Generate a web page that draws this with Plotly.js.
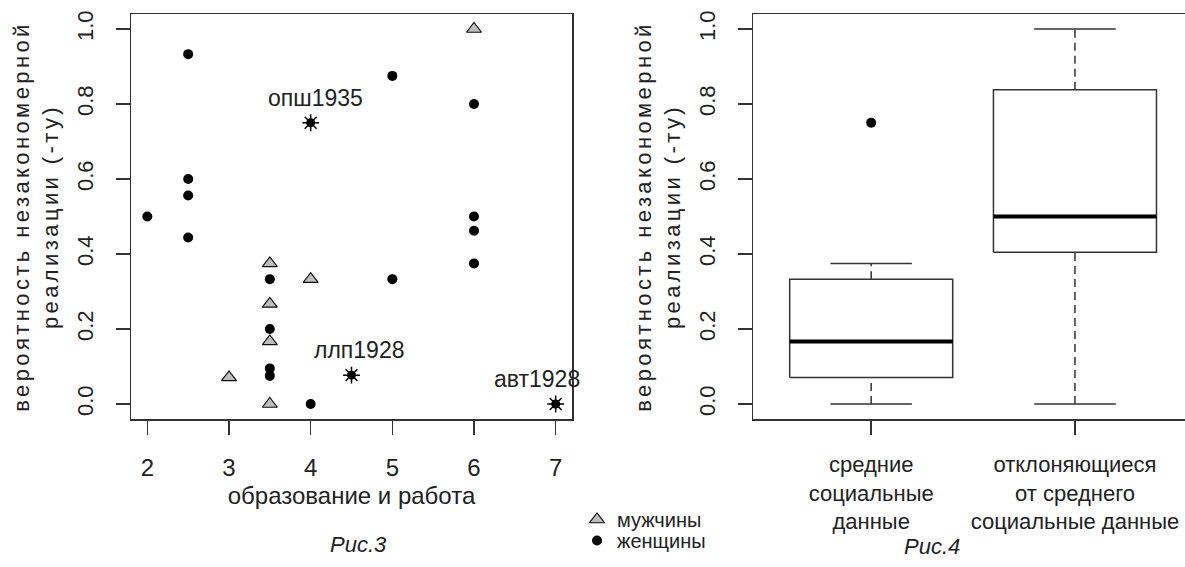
<!DOCTYPE html>
<html>
<head>
<meta charset="utf-8">
<script src="https://cdn.plot.ly/plotly-3.0.1.min.js"></script>
<style>
html,body{margin:0;padding:0;background:#fff;}
#chart{width:1185px;height:567px;}
.ytitle,.y2title{letter-spacing:3.4px;}
</style>
</head>
<body>
<div id="chart"></div>
<script>
// ---- Fig.3: scatter data ----
var menX = [6, 3.5, 4, 3.5, 3.5, 3, 3.5];
var menY = [1.0, 0.375, 0.333, 0.267, 0.167, 0.071, 0.0];
var womenX = [2.5, 5, 6, 2.5, 2.5, 2, 6, 6, 2.5, 6, 3.5, 5, 3.5, 3.5, 3.5, 4];
var womenY = [0.933, 0.875, 0.8, 0.6, 0.556, 0.5, 0.5, 0.462, 0.444, 0.375, 0.333, 0.333, 0.2, 0.095, 0.075, 0.0];
var starX = [4, 4.5, 7];
var starY = [0.75, 0.077, 0.0];
var starLabels = ["опш1935", "ллп1928", "авт1928"];
var starLabelShift = [5, 7, -19];
var xTicks3 = [2, 3, 4, 5, 6, 7];
var yTicks = [0, 0.2, 0.4, 0.6, 0.8, 1.0];
var yTickText = ["0.0", "0.2", "0.4", "0.6", "0.8", "1.0"];

// ---- Fig.4: box plot statistics ----
var groups = ["средние<br>социальные<br>данные", "отклоняющиеся<br>от среднего<br>социальные данные"];
var boxLower = [0.0, 0.0];
var boxQ1 = [0.071, 0.405];
var boxMedian = [0.167, 0.5];
var boxQ3 = [0.333, 0.838];
var boxUpper = [0.375, 1.0];
var outlierGroup = [1];
var outlierY = [0.75];

var FONT = "Liberation Sans, Arial, sans-serif";
var TXT = "#222";
var LINE = "#333";
var FS = 24;

var traces = [];
traces.push({
  x: menX, y: menY, type: "scatter", mode: "markers", name: "мужчины", legend: "legend",
  marker: {symbol: "triangle-up", size: 13, color: "#bdbdbd", line: {color: "#111", width: 1.2}},
  xaxis: "x", yaxis: "y", hoverinfo: "x+y"
});
traces.push({
  x: womenX, y: womenY, type: "scatter", mode: "markers", name: "женщины", legend: "legend2",
  marker: {symbol: "circle", size: 10, color: "#000"},
  xaxis: "x", yaxis: "y", hoverinfo: "x+y"
});
traces.push({
  x: starX, y: starY, type: "scatter", mode: "markers", showlegend: false,
  marker: {symbol: "circle", size: 9, color: "#000"},
  xaxis: "x", yaxis: "y", text: starLabels, hoverinfo: "text"
});
traces.push({
  x: starX, y: starY, type: "scatter", mode: "markers", showlegend: false,
  marker: {symbol: "asterisk-open", size: 14, color: "#000", line: {color: "#000", width: 1.5}},
  xaxis: "x", yaxis: "y", hoverinfo: "skip"
});

// box plot drawn from statistics
var HW = 0.4, CW = 0.2;
var bx = [], by = [], mx = [], my = [], wx = [], wy = [], cx = [], cy = [];
for (var i = 0; i < groups.length; i++) {
  var p = i + 1;
  bx.push(p - HW, p + HW, p + HW, p - HW, p - HW, null);
  by.push(boxQ1[i], boxQ1[i], boxQ3[i], boxQ3[i], boxQ1[i], null);
  mx.push(p - HW, p + HW, null);
  my.push(boxMedian[i], boxMedian[i], null);
  wx.push(p, p, null, p, p, null);
  wy.push(boxQ3[i], boxUpper[i], null, boxLower[i], boxQ1[i], null);
  cx.push(p - CW, p + CW, null, p - CW, p + CW, null);
  cy.push(boxUpper[i], boxUpper[i], null, boxLower[i], boxLower[i], null);
}
traces.push({x: wx, y: wy, type: "scatter", mode: "lines", showlegend: false, xaxis: "x2", yaxis: "y2",
  line: {color: LINE, width: 1.5, dash: "8px,5px"}, hoverinfo: "skip"});
traces.push({x: cx, y: cy, type: "scatter", mode: "lines", showlegend: false, xaxis: "x2", yaxis: "y2",
  line: {color: LINE, width: 1.5}, hoverinfo: "skip"});
traces.push({x: bx, y: by, type: "scatter", mode: "lines", showlegend: false, xaxis: "x2", yaxis: "y2",
  line: {color: LINE, width: 1.5}, hoverinfo: "skip"});
traces.push({x: mx, y: my, type: "scatter", mode: "lines", showlegend: false, xaxis: "x2", yaxis: "y2",
  line: {color: "#000", width: 4}, hoverinfo: "skip"});
traces.push({x: outlierGroup, y: outlierY, type: "scatter", mode: "markers", showlegend: false, xaxis: "x2", yaxis: "y2",
  marker: {symbol: "circle", size: 10, color: "#000"}, hoverinfo: "y"});

var annotations = [];
for (var k = 0; k < starLabels.length; k++) {
  annotations.push({x: starX[k], y: starY[k], xref: "x", yref: "y", text: starLabels[k], showarrow: false,
    yshift: 25, xshift: starLabelShift[k], font: {family: FONT, size: 23, color: TXT}});
}
annotations.push({x: 358 / 1185, y: -0.311, xref: "paper", yref: "paper", xanchor: "center", yanchor: "middle",
  text: "<i>Рис.3</i>", showarrow: false, font: {family: FONT, size: 22, color: TXT}});
annotations.push({x: 932 / 1185, y: -0.316, xref: "paper", yref: "paper", xanchor: "center", yanchor: "middle",
  text: "<i>Рис.4</i>", showarrow: false, font: {family: FONT, size: 22, color: TXT}});

var yTitle = "вероятность незакономерной<br>реализации (-ту)";
function yAxis(anchor, mirror) {
  return {
    anchor: anchor, range: [-0.04, 1.04], tickvals: yTicks, ticktext: yTickText, tickangle: -90,
    ticks: "outside", ticklen: 14, tickwidth: 1.5, tickcolor: LINE,
    showline: true, linecolor: LINE, linewidth: 1.5, mirror: mirror, showgrid: false, zeroline: false,
    tickfont: {family: FONT, size: 22, color: TXT}, ticklabelstandoff: 14,
    title: {text: yTitle, font: {family: FONT, size: 22, color: TXT}, standoff: 8}
  };
}
function legendAt(top) {
  return {x: 577 / 1185, y: top, xanchor: "left", yanchor: "top", font: {family: FONT, size: 20, color: TXT},
    itemsizing: "trace", bgcolor: "rgba(0,0,0,0)"};
}

var layout = {
  width: 1185, height: 567,
  margin: {l: 0, r: 0, t: 14, b: 148},
  paper_bgcolor: "#fff", plot_bgcolor: "#fff",
  showlegend: true,
  legend: legendAt(-0.20),
  legend2: legendAt(-0.252),
  xaxis: {
    domain: [131 / 1185, 572 / 1185], anchor: "y", range: [1.8, 7.2], tickvals: xTicks3,
    ticks: "outside", ticklen: 14, tickwidth: 1.5, tickcolor: LINE,
    showline: true, linecolor: LINE, linewidth: 1.5, mirror: true, showgrid: false, zeroline: false,
    tickfont: {family: FONT, size: FS, color: TXT}, ticklabelstandoff: 13,
    title: {text: "образование и работа", font: {family: FONT, size: FS, color: TXT}, standoff: 7}
  },
  yaxis: yAxis("x", true),
  xaxis2: {
    domain: [753 / 1185, 1], anchor: "y2", range: [0.42, 2.54], tickvals: [1, 2], ticktext: groups,
    ticks: "outside", ticklen: 14, tickwidth: 1.5, tickcolor: LINE,
    showline: true, linecolor: LINE, linewidth: 1.5, mirror: true, showgrid: false, zeroline: false,
    tickfont: {family: FONT, size: 22, color: TXT}, ticklabelstandoff: 11, ticklabeloverflow: "allow"
  },
  yaxis2: yAxis("x2", false),
  annotations: annotations
};

Plotly.newPlot("chart", traces, layout, {displayModeBar: false, staticPlot: true});
</script>
</body>
</html>
